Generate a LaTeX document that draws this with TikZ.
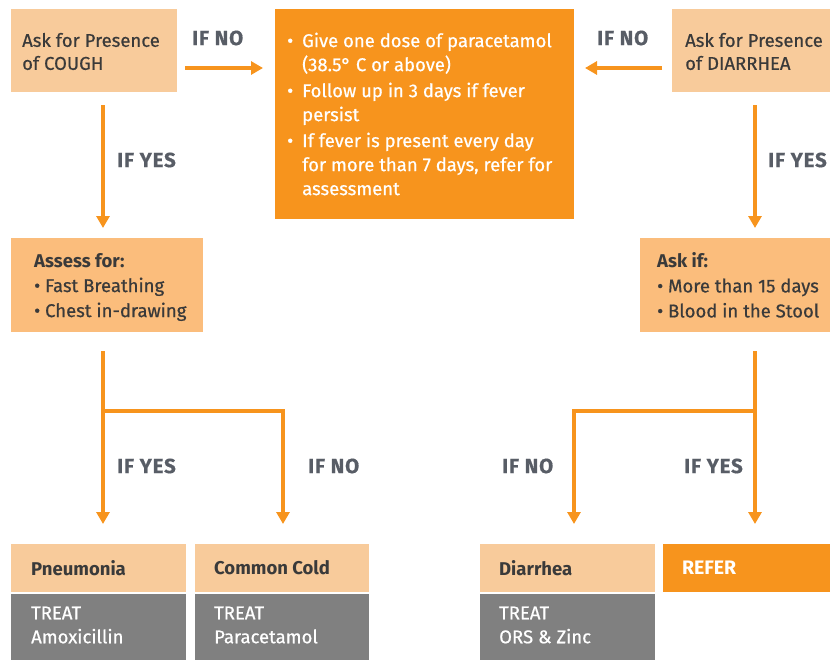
\documentclass[tikz,border=0pt]{standalone}
\usepackage{fontspec}
\setmainfont{Fira Sans}
\newfontfamily\medfont[FakeBold=0.6]{Fira Sans}
\newfontfamily\lblfont[FakeBold=0.5,LetterSpace=4]{Fira Sans Bold}
\usetikzlibrary{arrows.meta}

\definecolor{peach}{HTML}{F8CB9B}
\definecolor{apricot}{HTML}{FBBD7C}
\definecolor{orng}{HTML}{F7941D}
\definecolor{slate}{HTML}{808080}
\definecolor{lblgray}{HTML}{585D66}
\definecolor{ink}{HTML}{3A3A3A}

\newcommand\bul{\makebox[15pt][l]{\textbullet}}
\newcommand\ind{\hspace*{15pt}}

\begin{document}
\begin{tikzpicture}[x=1pt,y=-1pt,
  bx/.style={rectangle, anchor=north west, inner sep=0pt, draw=none},
  txt/.style={anchor=west, inner sep=0pt, align=left, text=ink,
    font=\medfont\fontsize{18.5}{23}\selectfont},
  wtxt/.style={txt, text=white},
  head/.style={txt, font=\fontsize{18.5}{23}\selectfont\bfseries},
  lbl/.style={anchor=west, inner sep=0pt, text=lblgray,
    font=\lblfont\fontsize{20.5}{24}\selectfont},
  flow/.style={draw=orng, line width=4pt, -{Triangle[width=13pt,length=12pt]}}
]
\useasboundingbox (0,0) rectangle (830,659);

% ---- boxes ----
\node[bx, fill=peach,   minimum width=166pt, minimum height=83pt]  (cough)  at (11,9) {};
\node[bx, fill=orng,    minimum width=299pt, minimum height=210pt] (fever)  at (275,9) {};
\node[bx, fill=peach,   minimum width=170pt, minimum height=83pt]  (diar)   at (672,9) {};
\node[bx, fill=apricot, minimum width=192pt, minimum height=94pt]  (assess) at (11,238) {};
\node[bx, fill=apricot, minimum width=200pt, minimum height=94pt]  (askif)  at (640,238) {};

\node[bx, fill=peach, minimum width=175pt, minimum height=48pt] (pneu)  at (11,544) {};
\node[bx, fill=slate, minimum width=175pt, minimum height=70pt] (pneuR) at (11,594) {};
\node[bx, fill=peach, minimum width=174pt, minimum height=48pt] (cold)  at (195,544) {};
\node[bx, fill=slate, minimum width=174pt, minimum height=70pt] (coldR) at (195,594) {};
\node[bx, fill=peach, minimum width=175pt, minimum height=48pt] (dia)   at (480,544) {};
\node[bx, fill=slate, minimum width=175pt, minimum height=70pt] (diaR)  at (480,594) {};
\node[bx, fill=orng,  minimum width=180pt, minimum height=48pt] (refer) at (663,544) {};

% ---- box texts ----
\node[txt] (coughT) at (22,51.5) {Ask for Presence\\of COUGH};
\node[wtxt, font=\medfont\fontsize{18.5}{24}\selectfont] (feverT) at (287,114)
  {\bul Give one dose of paracetamol\\
   \ind(38.5° C or above)\\[2pt]
   \bul Follow up in 3 days if fever\\
   \ind persist\\[2pt]
   \bul If fever is present every day\\
   \ind for more than 7 days, refer for\\
   \ind assessment};
\node[txt] (diarT) at (685,51.5) {Ask for Presence\\of DIARRHEA};
\node[txt, font=\medfont\fontsize{18.5}{25}\selectfont] (assessT) at (34,287)
  {{\normalfont\fontsize{18.5}{25}\selectfont\bfseries Assess for:}\\\textbullet{} Fast Breathing\\\textbullet{} Chest in-drawing};
\node[txt, font=\medfont\fontsize{18.5}{25}\selectfont] (askifT) at (657,285)
  {{\normalfont\fontsize{18.5}{25}\selectfont\bfseries Ask if:}\\\textbullet{} More than 15 days\\\textbullet{} Blood in the Stool};

\node[head] (pneuL) at (31,568) {Pneumonia};
\node[head] (coldL) at (214,568) {Common Cold};
\node[head] (diaL)  at (499,568) {Diarrhea};
\node[head, text=white, font=\fontsize{19.5}{23}\selectfont\bfseries] (referL) at (682,568) {REFER};

\node[wtxt, font=\medfont\fontsize{18.5}{24}\selectfont] (pneuRT) at (31,625)  {TREAT\\Amoxicillin};
\node[wtxt, font=\medfont\fontsize{18.5}{24}\selectfont] (coldRT) at (214,625) {TREAT\\Paracetamol};
\node[wtxt, font=\medfont\fontsize{18.5}{24}\selectfont] (diaRT)  at (499,625) {TREAT\\ORS \& Zinc};

% ---- connector end points ----
\coordinate (coughOut)  at (185,68);
\coordinate (feverInL)  at (263,68);
\coordinate (diarOut)   at (662,68);
\coordinate (feverInR)  at (585,68);
\coordinate (coughDown) at (103,105);
\coordinate (assessIn)  at (103,228);
\coordinate (diarDown)  at (755,105);
\coordinate (askifIn)   at (755,228);
\coordinate (assessOut) at (103,351);
\coordinate (splitL)    at (103,411);
\coordinate (pneuIn)    at (103,524);
\coordinate (coldIn)    at (283,524);
\coordinate (askifOut)  at (755,351);
\coordinate (splitR)    at (755,411);
\coordinate (referIn)   at (755,524);
\coordinate (diaIn)     at (574,524);

% ---- connectors ----
\draw[flow] (coughOut) -- (feverInL);
\draw[flow] (diarOut) -- (feverInR);
\draw[flow] (coughDown) -- (assessIn);
\draw[flow] (diarDown) -- (askifIn);
\draw[flow] (assessOut) -- (pneuIn);
\draw[flow] (splitL) -| (coldIn);
\draw[flow] (askifOut) -- (referIn);
\draw[flow] (splitR) -| (diaIn);

% ---- branch labels ----
\node[lbl] (noL)    at (192,38)  {IF NO};
\node[lbl] (noR)    at (597,38)  {IF NO};
\node[lbl] (yesL)   at (117,160) {IF YES};
\node[lbl] (yesR)   at (768,160) {IF YES};
\node[lbl] (yesPn)  at (117,466) {IF YES};
\node[lbl] (noCold) at (308,466) {IF NO};
\node[lbl] (noDia)  at (502,466) {IF NO};
\node[lbl] (yesRef) at (684,466) {IF YES};
\end{tikzpicture}
\end{document}
